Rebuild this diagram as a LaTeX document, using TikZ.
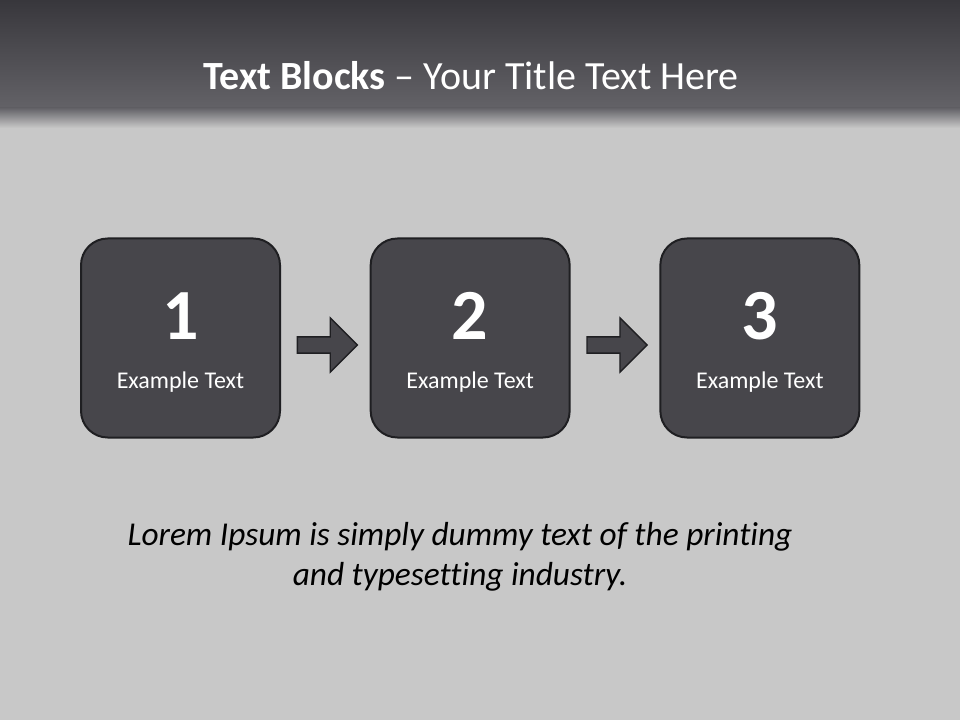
\documentclass[tikz,border=0pt]{standalone}
\usepackage{fontspec}
\setmainfont{Carlito}[Ligatures={TeX,NoCommon}]
\usepackage{xcolor}
\usepackage{tikz}
\usetikzlibrary{positioning,calc,shapes.arrows}

\definecolor{hdtop}{HTML}{38373C}
\definecolor{hdbot}{HTML}{636267}
\definecolor{slidebg}{HTML}{C8C8C8}
\definecolor{blockfill}{HTML}{47464B}
\definecolor{blockline}{HTML}{1F1F22}

\begin{document}
\begin{tikzpicture}[
    x=0.75pt, y=-0.75pt,
    node distance=66.5pt,
    block/.style={draw=blockline, line width=1.5pt, fill=blockfill, rounded corners=20pt, minimum size=149.25pt, inner sep=0pt},
    blockarrow/.style={single arrow, draw=blockline, line width=1pt, fill=blockfill, inner sep=5.6pt, minimum height=45pt, single arrow head extend=14.25pt},
    numtxt/.style={text=white, font=\fontsize{54}{60}\selectfont\bfseries},
    subtxt/.style={text=white, font=\fontsize{18}{22}\selectfont}
]
    \useasboundingbox (0,0) rectangle (960,720);
    % slide background and header band
    \fill[slidebg] (0,0) rectangle (960,720);
    \shade[top color=hdtop, bottom color=hdbot] (0,0) rectangle (960,108);
    \shade[top color=hdbot, bottom color=slidebg] (0,108) rectangle (960,128);

    \node[text=white, font=\fontsize{30}{36}\selectfont] (title) at (471,76) {\textbf{Text Blocks} -- Your Title Text Here};

    % the three blocks
    \node[block]                (box1) at (180.5,338) {};
    \node[block, right=of box1] (box2) {};
    \node[block, right=of box2] (box3) {};

    \foreach \b/\n in {box1/1, box2/2, box3/3} {
        \node[numtxt] (num\n) at ($(\b.center)+(0,-22)$) {\n};
        \node[subtxt] (sub\n) at ($(\b.center)+(0,44)$) {Example Text};
    }

    % arrows between the blocks
    \node[blockarrow] (arr12) at ($(box1.east)!0.5!(box2.west)+(-2,7)$) {};
    \node[blockarrow] (arr23) at ($(box2.east)!0.5!(box3.west)+(-2,7)$) {};

    \node[text=black, font=\fontsize{25}{30}\selectfont\itshape, align=center] (lorem) at (460,557)
        {Lorem Ipsum is simply dummy text of the printing\\and typesetting industry.};
\end{tikzpicture}
\end{document}
